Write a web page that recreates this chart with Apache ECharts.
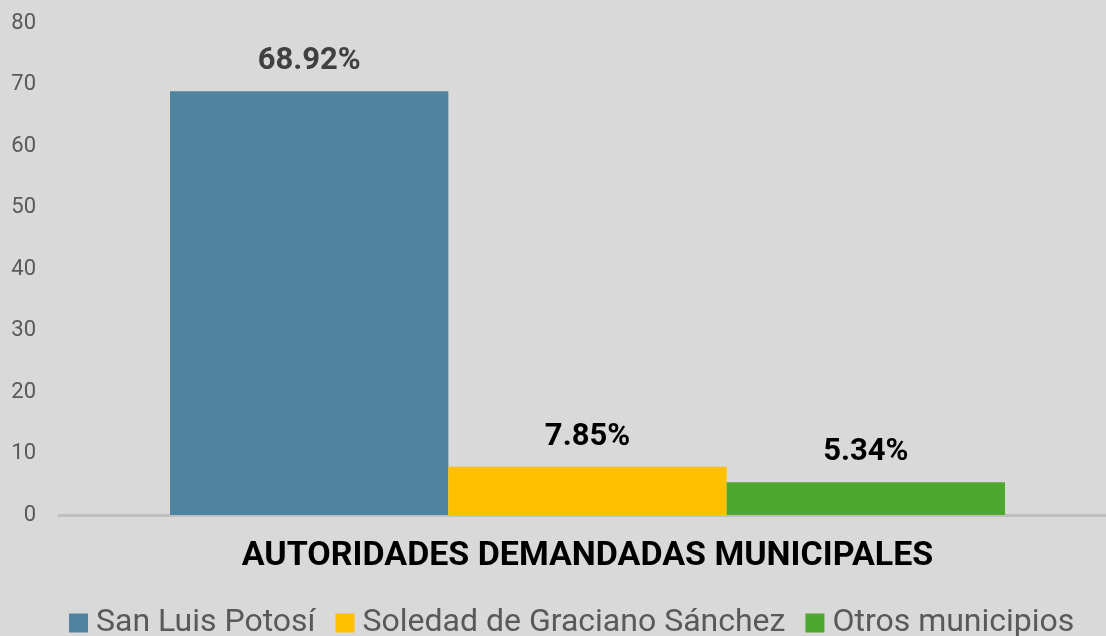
<!DOCTYPE html>
<html>
<head>
<meta charset="utf-8">
<script src="https://cdn.jsdelivr.net/npm/echarts@6/dist/echarts.min.js"></script>
<style>
  html, body { margin: 0; padding: 0; background: #d9d9d9; }
  #chart { width: 1106px; height: 636px; }
</style>
</head>
<body>
<div id="chart"></div>
<script>
// datos
const categories = ['AUTORIDADES DEMANDADAS MUNICIPALES']
const seriesNames = ['San Luis Potosí', 'Soledad de Graciano Sánchez', 'Otros municipios']
const seriesValues = [[68.92], [7.85], [5.34]]
const seriesColors = ['#4e84a0', '#ffc000', '#4ea72e']
const labelColors = ['#404040', '#000000', '#000000']

const chart = echarts.init(document.getElementById('chart'))

const series = seriesNames.map((name, i) => ({
  name: name,
  type: 'bar',
  data: seriesValues[i],
  barGap: '0%',
  barCategoryGap: '21%',
  itemStyle: { color: seriesColors[i] },
  label: {
    show: true,
    position: 'top',
    distance: 14,
    formatter: p => p.value.toFixed(2) + '%',
    fontFamily: 'Roboto',
    fontWeight: 'bold',
    fontSize: 31,
    color: labelColors[i]
  }
}))

chart.setOption({
  backgroundColor: '#d9d9d9',
  animation: false,
  grid: { left: 59, top: 23, bottom: 121, right: -10, outerBoundsMode: 'none' },
  legend: {
    top: 602,
    left: 64,
    icon: 'rect',
    itemWidth: 19,
    itemHeight: 19,
    itemGap: 20,
    textStyle: { fontFamily: 'Roboto', fontSize: 32, color: '#595959', padding: [0, 0, 0, 3] },
    data: seriesNames
  },
  xAxis: {
    type: 'category',
    data: categories,
    axisLine: { lineStyle: { color: '#bfbfbf', width: 3 } },
    axisTick: { show: false },
    axisLabel: {
      margin: 24,
      fontFamily: 'Roboto',
      fontWeight: 'bold',
      fontSize: 34,
      color: '#000'
    }
  },
  yAxis: {
    type: 'value',
    min: 0,
    max: 80,
    interval: 10,
    splitLine: { show: false },
    axisLine: { show: false },
    axisTick: { show: false },
    axisLabel: { margin: 23, fontFamily: 'Roboto', fontSize: 22, color: '#595959' }
  },
  series: series
})
</script>
</body>
</html>
